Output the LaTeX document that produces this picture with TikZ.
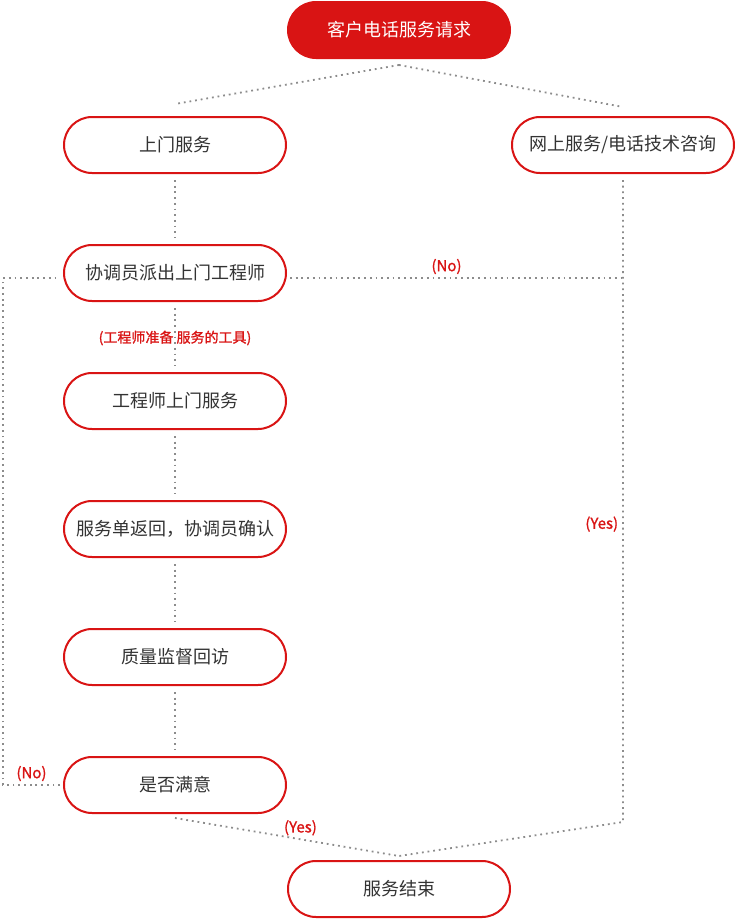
\documentclass[tikz,border=0pt]{standalone}
\usepackage{fontspec}
\setmainfont{Noto Sans CJK SC}
\newfontface\tagface{Noto Sans CJK SC}[FakeBold=1.2]
\usetikzlibrary{positioning, calc}
\definecolor{brandred}{HTML}{D91414}
\definecolor{textgray}{HTML}{333333}

\begin{document}
\begin{tikzpicture}[
    x=1pt, y=-1pt,
    node distance=70pt,
    stage/.style={
        draw=brandred, rectangle, rounded corners=28pt, align=center,
        minimum width=222pt, minimum height=56pt, line width=2pt,
        font=\fontsize{18}{22}\selectfont, text=textgray, fill=white
    },
    start/.style={stage, fill=brandred, text=white},
    link/.style={draw=black!45, line width=1.8pt, dash pattern=on 1.8pt off 3.9pt},
    gap/.style={shorten <=6pt, shorten >=6pt},
    tag/.style={font=\tagface\fontsize{15}{17}\selectfont, text=brandred, inner sep=1pt},
]
\useasboundingbox (0,0) rectangle (735,919);

\node[start] (request) at (399,30) {客户电话服务请求};
\node[stage] (onsite) at (175,145) {上门服务};
\node[stage] (online) at (623,145) {网上服务/电话技术咨询};
\node[stage, below=of onsite] (dispatch) {协调员派出上门工程师};
\node[stage, below=of dispatch] (visit) {工程师上门服务};
\node[stage, below=of visit] (report) {服务单返回，协调员确认};
\node[stage, below=of report] (review) {质量监督回访};
\node[stage, below=of review] (satisfied) {是否满意};
\node[stage] (finish) at (399,889) {服务结束};

% split and merge points
\coordinate (split) at ([yshift=-6pt]request.south);
\coordinate (merge) at ([yshift=4pt]finish.north);
\coordinate (rjoin) at ([yshift=-5pt]online.south |- dispatch.east);
\coordinate (rturn) at ($(online.south |- satisfied.south)+(0,8)$);
\coordinate (lrailb) at ([xshift=-60pt]satisfied.west);
\coordinate (lrailt) at (lrailb |- rjoin);

\draw[link] (split) -- ([yshift=12pt]onsite.north);
\draw[link] (split) -- ([yshift=9pt]online.north);

\draw[link, gap] (onsite) -- (dispatch);
\draw[link, gap] (dispatch) -- (visit);
\draw[link, gap] (visit) -- (report);
\draw[link, gap] (report) -- (review);
\draw[link, gap] (review) -- (satisfied);

\draw[link] ([xshift=3pt, yshift=-5pt]dispatch.east) -- (rjoin)
    node[tag, pos=0.47, above=2pt] {(No)};
\draw[link] ([yshift=-6pt]online.south) -- (rturn)
    node[tag, pos=0.536, left=3pt] {(Yes)} -- (merge);
\draw[link] ([yshift=-4pt]satisfied.south) -- (merge)
    node[tag, pos=0.56, above=2pt] {(Yes)};
\draw[link] ([xshift=-3pt]satisfied.west) -- (lrailb)
    node[tag, midway, above=2pt] {(No)} -- (lrailt) -- ([xshift=-3pt, yshift=-5pt]dispatch.west);

\node[tag, font=\tagface\fontsize{14}{16}\selectfont] (prep) at ($(dispatch.south)+(0,36)$) {(工程师准备 服务的工具)};

\end{tikzpicture}
\end{document}
